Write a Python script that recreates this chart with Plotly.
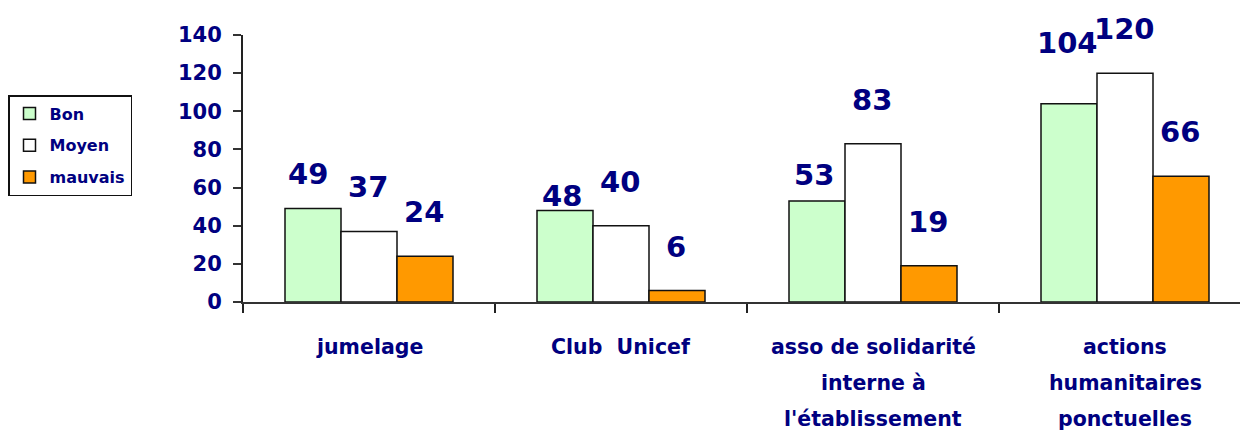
import plotly.graph_objects as go

categories = ["jumelage", "Club Unicef", "asso de solidarité interne à l'établissement", "actions humanitaires ponctuelles"]
category_lines = [["jumelage"], ["Club  Unicef"], ["asso de solidarité", "interne à", "l'établissement"], ["actions", "humanitaires", "ponctuelles"]]
series_names = ["Bon", "Moyen", "mauvais"]
bon = [49, 48, 53, 104]
moyen = [37, 40, 83, 120]
mauvais = [24, 6, 19, 66]

colors = ["#CCFFCC", "#FFFFFF", "#FF9900"]
navy = "#000080"
font_family = "DejaVu Sans"

# label nudges (series index, category index) -> (dx, dy) in px
nudges = {(0, 0): (-5, -9), (0, 1): (-3, -30), (0, 2): (-3, -18), (0, 3): (-2, 17)}

fig = go.Figure()
for i, (name, vals) in enumerate(zip(series_names, [bon, moyen, mauvais])):
    fig.add_trace(go.Bar(
        name=name, x=categories, y=vals,
        marker=dict(color=colors[i], line=dict(color="#111111", width=1.5)),
        legendgroup=name,
    ))

bar_px = 56
annotations = []
for i, vals in enumerate([bon, moyen, mauvais]):
    for j, v in enumerate(vals):
        dx, dy = nudges.get((i, j), (-1, 0))
        annotations.append(dict(
            x=categories[j], y=v, xref="x", yref="y", text=str(v), showarrow=False,
            xshift=(i - 1) * bar_px + dx, yshift=44 + dy, yanchor="middle",
            font=dict(family=font_family, size=29, color=navy, weight="bold"),
        ))

for j, lines in enumerate(category_lines):
    for k, line in enumerate(lines):
        annotations.append(dict(
            x=categories[j], y=0, xref="x", yref="paper", text=line, showarrow=False,
            yshift=-45 - 36 * k, yanchor="middle",
            font=dict(family=font_family, size=20.5, color=navy, weight="bold"),
        ))

fig.update_layout(
    width=1240, height=431,
    margin=dict(l=243, r=0, t=35, b=129, autoexpand=False),
    paper_bgcolor="white", plot_bgcolor="white",
    barmode="group", bargap=1/3, bargroupgap=0,
    font=dict(family=font_family, color=navy),
    showlegend=True,
    legend=dict(
        x=(8 - 243) / 997, y=(302 - 95) / 267, xanchor="left", yanchor="top",
        bordercolor="#111111", borderwidth=1.5, bgcolor="white",
        font=dict(family=font_family, size=16, color=navy, weight="bold"),
        tracegroupgap=8, itemwidth=30,
    ),
    annotations=annotations,
    xaxis=dict(
        range=[-0.5, -0.5 + 997 / 252], showticklabels=False, ticks="outside",
        tickson="boundaries", ticklen=9, tickcolor="#222222", tickwidth=1.5,
        showline=True, linecolor="#333333", linewidth=1.5, showgrid=False, zeroline=False,
        fixedrange=True,
    ),
    yaxis=dict(
        range=[0, 140], tickvals=list(range(0, 141, 20)), ticks="outside", ticklen=8,
        tickcolor="#333333", tickwidth=1.5, showline=True, linecolor="#222222", linewidth=2,
        showgrid=False, zeroline=False, ticklabelstandoff=7,
        tickfont=dict(family=font_family, size=21, color=navy, weight="bold"),
    ),
)

fig.write_html(
    "out.html",
    config={"displayModeBar": False},
    post_script="document.body.style.margin='0';document.body.style.overflow='hidden';",
)
